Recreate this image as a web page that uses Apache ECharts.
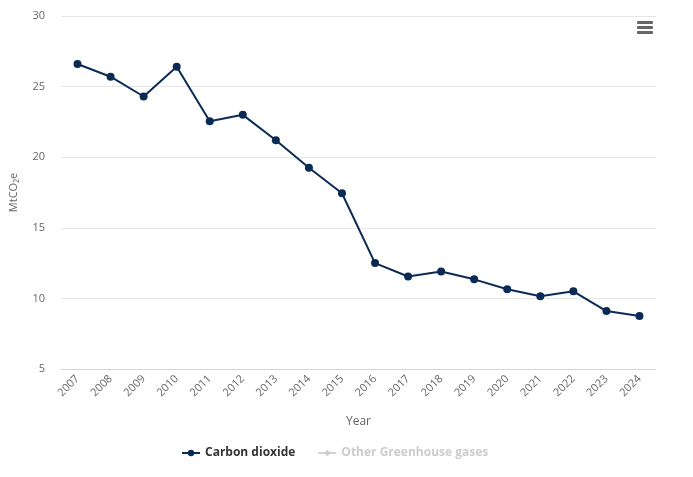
<!DOCTYPE html>
<html>
<head>
<meta charset="utf-8">
<script src="https://cdn.jsdelivr.net/npm/echarts@6/dist/echarts.min.js"></script>
<style>
  html, body { margin: 0; padding: 0; background: #fff; }
  #main { width: 693px; height: 477px; }
</style>
</head>
<body>
<div id="main"></div>
<script>
// years on the x axis
const years = ['2007', '2008', '2009', '2010', '2011', '2012', '2013', '2014', '2015',
  '2016', '2017', '2018', '2019', '2020', '2021', '2022', '2023', '2024'];
// MtCO2e
const carbonDioxide = [26.6, 25.7, 24.3, 26.4, 22.55, 23.0, 21.2, 19.25, 17.45,
  12.5, 11.55, 11.9, 11.35, 10.65, 10.15, 10.5, 9.1, 8.75];
// hidden in the reference (legend item switched off)
const otherGases = [];

const myChart = echarts.init(document.getElementById('main'));
const font = '"Open Sans", "DejaVu Sans", sans-serif';

let option = {
  animation: false,
  textStyle: { fontFamily: font },
  grid: { left: 60, right: 37, top: 16, bottom: 108, containLabel: false },
  legend: {
    bottom: 13,
    left: 176,
    itemGap: 22,
    itemWidth: 18,
    itemHeight: 8,
    inactiveColor: '#cccccc',
    textStyle: { fontSize: 12, fontWeight: 'bold', color: '#333333', fontFamily: font },
    data: ['Carbon dioxide', 'Other Greenhouse gases'],
    selected: { 'Carbon dioxide': true, 'Other Greenhouse gases': false }
  },
  xAxis: {
    type: 'category',
    data: years,
    boundaryGap: true,
    name: 'Year',
    nameLocation: 'middle',
    nameGap: 47,
    nameTextStyle: { color: '#666666', fontSize: 12 },
    axisLine: { lineStyle: { color: '#ccd6eb' } },
    axisTick: { show: false },
    axisLabel: { rotate: 45, color: '#666666', fontSize: 11, margin: 8 },
    splitLine: { show: false }
  },
  yAxis: {
    type: 'value',
    min: 5,
    max: 30,
    interval: 5,
    name: 'MtCO₂e',
    nameLocation: 'middle',
    nameGap: 42,
    nameTextStyle: { color: '#666666', fontSize: 11 },
    axisLine: { show: false },
    axisTick: { show: false },
    axisLabel: { color: '#666666', fontSize: 11, margin: 16 },
    splitLine: { lineStyle: { color: '#e6e6e6' } }
  },
  series: [
    {
      name: 'Carbon dioxide',
      type: 'line',
      data: carbonDioxide,
      symbol: 'circle',
      symbolSize: 8,
      itemStyle: { color: '#0b2b55' },
      lineStyle: { color: '#0b2b55', width: 2 }
    },
    {
      name: 'Other Greenhouse gases',
      type: 'line',
      data: otherGases,
      symbol: 'diamond',
      symbolSize: 8,
      itemStyle: { color: '#a0a0a0' },
      lineStyle: { width: 2 }
    }
  ],
  // context-menu button in the top right
  graphic: [
    { type: 'rect', shape: { x: 637, y: 21, width: 16, height: 3, r: 1 }, style: { fill: '#666666' } },
    { type: 'rect', shape: { x: 637, y: 26, width: 16, height: 3, r: 1 }, style: { fill: '#666666' } },
    { type: 'rect', shape: { x: 637, y: 31, width: 16, height: 3, r: 1 }, style: { fill: '#666666' } }
  ]
};

myChart.setOption(option);
</script>
</body>
</html>
